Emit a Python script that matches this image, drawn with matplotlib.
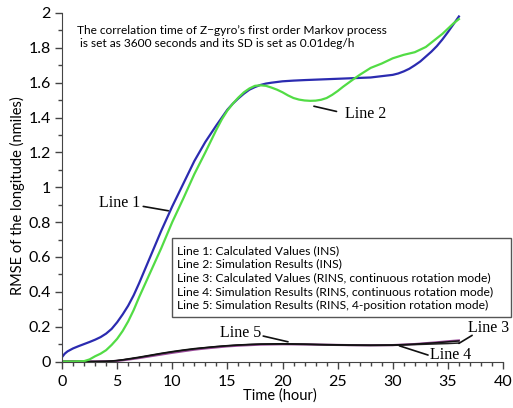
import numpy as np
import matplotlib
matplotlib.use('agg')
import matplotlib.pyplot as plt
from matplotlib.patches import Rectangle
from matplotlib.ticker import MultipleLocator

# Line 1: calculated values (INS)
t1 = [0, 0.25, 0.5, 1, 1.5, 2, 2.5, 3, 3.5, 4, 4.5, 5, 5.5, 6, 6.5, 7, 7.5, 8,
      9, 10, 11, 12, 13, 14, 15, 15.5, 16, 16.5, 17, 17.5, 18, 18.5, 19, 19.5,
      20, 21, 22, 24, 26, 28, 30, 30.5, 31, 31.5, 32, 32.5, 33, 33.5, 34, 34.5,
      35, 35.5, 36]
line1 = [0.025, 0.045, 0.058, 0.075, 0.088, 0.10, 0.112, 0.125, 0.14, 0.16,
         0.187, 0.225, 0.27, 0.32, 0.38, 0.45, 0.525, 0.60, 0.75, 0.89, 1.02,
         1.15, 1.26, 1.355, 1.445, 1.48, 1.51, 1.537, 1.56, 1.575, 1.587, 1.595,
         1.60, 1.604, 1.608, 1.612, 1.615, 1.62, 1.625, 1.63, 1.645, 1.653,
         1.665, 1.68, 1.70, 1.722, 1.75, 1.778, 1.81, 1.848, 1.89, 1.935, 1.98]

# Line 2: simulation results (INS)
t2 = [0, 1, 2, 2.5, 3, 3.5, 4, 4.5, 5, 5.5, 6, 6.5, 7, 7.5, 8, 9, 10, 11, 12,
      13, 14, 14.5, 15, 15.5, 16, 16.5, 17, 17.5, 18, 18.5, 19, 19.5, 20, 20.5,
      21, 21.5, 22, 22.5, 23, 23.5, 24, 24.5, 25, 25.5, 26, 26.5, 27, 27.5, 28,
      29, 30, 31, 32, 33, 33.5, 34, 34.5, 35, 35.5, 36]
line2 = [0, 0, 0.002, 0.012, 0.03, 0.045, 0.065, 0.095, 0.13, 0.175, 0.23,
         0.295, 0.37, 0.44, 0.51, 0.65, 0.80, 0.935, 1.075, 1.20, 1.33, 1.39,
         1.44, 1.48, 1.515, 1.545, 1.567, 1.582, 1.585, 1.582, 1.572, 1.56,
         1.545, 1.527, 1.512, 1.503, 1.498, 1.496, 1.497, 1.502, 1.512, 1.53,
         1.552, 1.577, 1.60, 1.623, 1.645, 1.665, 1.685, 1.71, 1.74, 1.76,
         1.775, 1.805, 1.83, 1.855, 1.88, 1.91, 1.94, 1.965]

# Lines 3-5: RINS
t3 = [0, 2, 3, 4, 4.5, 5, 5.5, 6, 7, 8, 9, 10, 11, 12, 13, 14, 15, 16, 17, 18,
      20, 22, 24, 26, 28, 30, 31, 32, 33, 34, 35, 36]
line3 = [0, 0, 0, 0.001, 0.003, 0.006, 0.010, 0.015, 0.025, 0.036, 0.047,
         0.057, 0.066, 0.074, 0.080, 0.086, 0.091, 0.095, 0.098, 0.100, 0.102,
         0.100, 0.097, 0.095, 0.094, 0.095, 0.097, 0.100, 0.104, 0.108, 0.113,
         0.118]
line4 = [0, 0, 0, 0.001, 0.002, 0.005, 0.009, 0.013, 0.023, 0.034, 0.045,
         0.055, 0.064, 0.072, 0.079, 0.085, 0.090, 0.094, 0.097, 0.099, 0.100,
         0.098, 0.095, 0.093, 0.092, 0.093, 0.095, 0.097, 0.099, 0.101, 0.103,
         0.106]
line5 = [0, 0, 0, 0.001, 0.002, 0.003, 0.007, 0.011, 0.020, 0.030, 0.040,
         0.050, 0.059, 0.068, 0.075, 0.081, 0.087, 0.091, 0.094, 0.097, 0.099,
         0.098, 0.096, 0.094, 0.093, 0.094, 0.097, 0.100, 0.105, 0.110, 0.116,
         0.121]

legend_lines = [
    "Line 1: Calculated Values (INS)",
    "Line 2: Simulation Results (INS)",
    "Line 3: Calculated Values (RINS, continuous rotation mode)",
    "Line 4: Simulation Results (RINS, continuous rotation mode)",
    "Line 5: Simulation Results (RINS, 4-position rotation mode)",
]
note = ("The correlation time of Z\u2212gyro\u2019s first order Markov process\n"
        " is set as 3600 seconds and its SD is set as 0.01deg/h")

plt.rcParams['font.family'] = ['Lato', 'DejaVu Sans']

fig = plt.figure(figsize=(5.13, 4.08), dpi=100)
ax = fig.add_axes([62/513, 1-361.5/408, 441/513, 348.5/408])

ax.plot(t3, line5, color='#9a4a9a', lw=1.6)
ax.plot(t3, line4, color='#222222', lw=1.1)
ax.plot(t3, line3, color='#111111', lw=1.1)
ax.plot(t1, line1, color='#2b2bb0', lw=1.6)
ax.plot(t2, line2, color='#52dc45', lw=1.6)

ax.set_xlim(0, 40)
ax.set_ylim(0, 2)
ax.xaxis.set_major_locator(MultipleLocator(5))
ax.xaxis.set_minor_locator(MultipleLocator(1))
ax.yaxis.set_minor_locator(MultipleLocator(0.1))
ax.set_yticks(np.arange(0, 2.01, 0.2))
ax.set_yticklabels(['0', '0.2', '0.4', '0.6', '0.8', '1', '1.2', '1.4', '1.6', '1.8', '2'])
for s in ['top', 'right']:
    ax.spines[s].set_visible(False)
for s in ['left', 'bottom']:
    ax.spines[s].set_color('#444444')
ax.tick_params(which='major', length=5, width=1, color='#444444', labelsize=11.5, pad=3)
ax.tick_params(axis='x', which='major', pad=5)
ax.tick_params(which='minor', length=3, width=1, color='#444444')

ax.set_xlabel("Time (hour)", fontsize=10.5)
ax.set_ylabel("RMSE of the longitude (nmiles)", fontsize=10.5)
ax.xaxis.set_label_coords(0.494, -0.077)
ax.yaxis.set_label_coords(-0.084, 0.475)

ax.text(1.36, 1.862, note, fontsize=8.6, ha='left', va='center', linespacing=1.3)

# legend box drawn as plain text in a frame
ax.add_patch(Rectangle((9.95, 0.257), 30.8, 0.449, fill=False, ec='#555555',
                       lw=1, clip_on=False, zorder=5))
ax.text(10.4, 0.48, "\n".join(legend_lines), fontsize=8.7, ha='left', va='center',
        linespacing=1.3, zorder=6)

serif = dict(family='Liberation Serif', fontsize=11.5)
lead = dict(arrowstyle='-', color='#111111', lw=1.2, shrinkA=0, shrinkB=0)
ax.annotate("", xy=(9.64, 0.865), xytext=(7.37, 0.89), arrowprops=lead)
ax.text(7.1, 0.91, "Line 1", ha='right', va='center', **serif)
ax.annotate("", xy=(22.85, 1.465), xytext=(24.9, 1.435), arrowprops=lead)
ax.text(25.7, 1.418, "Line 2", ha='left', va='center', **serif)
ax.annotate("", xy=(36.0, 0.104), xytext=(37.2, 0.15), arrowprops=lead)
ax.text(36.8, 0.19, "Line 3", ha='left', va='center', **serif)
ax.annotate("", xy=(30.6, 0.09), xytext=(33.2, 0.037), arrowprops=lead)
ax.text(33.4, 0.037, "Line 4", ha='left', va='center', **serif)
ax.annotate("", xy=(20.5, 0.113), xytext=(18.25, 0.146), arrowprops=lead)
ax.text(18.1, 0.163, "Line 5", ha='right', va='center', **serif)

fig.savefig('out.png', dpi=100)
